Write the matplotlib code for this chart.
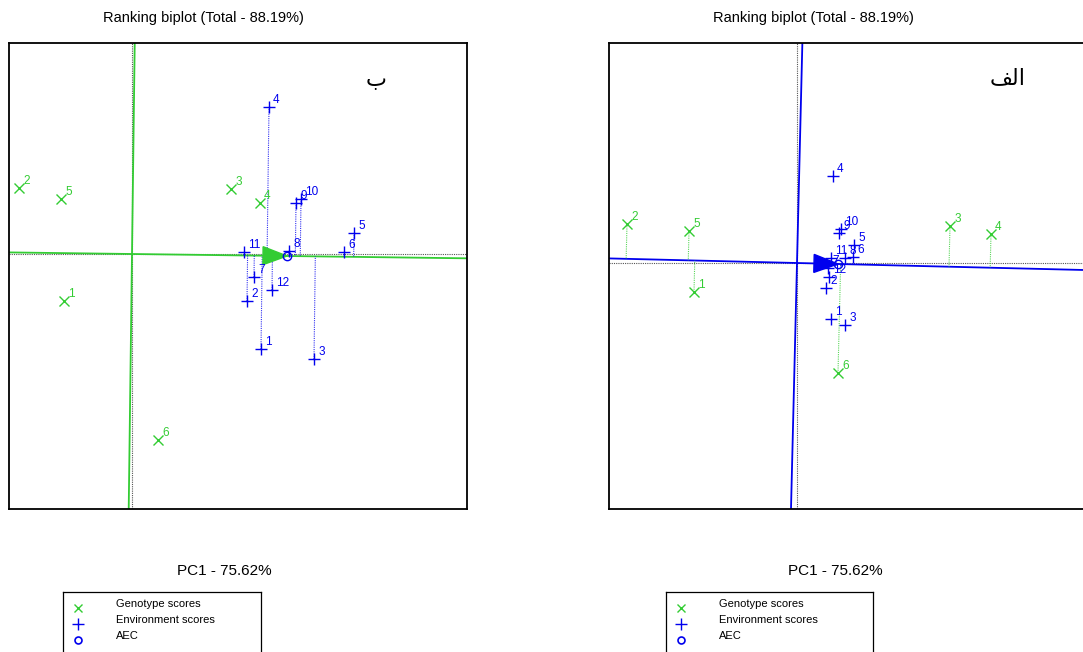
import numpy as np
import matplotlib
matplotlib.use("Agg")
import matplotlib.pyplot as plt
from matplotlib.patches import Polygon

plt.rcParams['font.family'] = ['Liberation Sans', 'DejaVu Sans']

GREEN = '#33cc33'
BLUE = '#0000ee'

title_text = 'Ranking biplot (Total - 88.19%)'
xlabel_text = 'PC1 - 75.62%'
legend_labels = ['Genotype scores', 'Environment scores', 'AEC']

genotype_ids = ['1', '2', '3', '4', '5', '6']
env_ids = ['1', '2', '3', '4', '5', '6', '7', '8', '9', '10', '11', '12']

# Panel "ب" (left)
b_gen_x = [-1.36, -2.26, 1.98, 2.56, -1.42, 0.52]
b_gen_y = [-0.94, 1.32, 1.30, 1.02, 1.10, -3.72]
b_env_x = [2.58, 2.30, 3.64, 2.74, 4.44, 4.24, 2.44, 3.14, 3.28, 3.38, 2.24, 2.80]
b_env_y = [-1.90, -0.94, -2.10, 2.94, 0.42, 0.04, -0.46, 0.06, 1.02, 1.10, 0.04, -0.72]
b_aec = [3.10, -0.04]

# Panel "الف" (right)
a_gen_x = [-2.06, -3.40, 3.06, 3.88, -2.16, 0.82]
a_gen_y = [-0.58, 0.78, 0.74, 0.58, 0.64, -2.20]
a_env_x = [0.68, 0.58, 0.96, 0.72, 1.14, 1.12, 0.62, 0.96, 0.84, 0.88, 0.68, 0.64]
a_env_y = [-1.12, -0.50, -1.24, 1.74, 0.36, 0.12, -0.10, 0.10, 0.60, 0.68, 0.10, -0.28]
a_aec = [0.82, -0.02]

W, H = 1083, 652
fig = plt.figure(figsize=(W / 100, H / 100), dpi=100)


def make_axes(left_px, right_px, top_px, bottom_px, ox_px, oy_px, scale=50.0):
    ax = fig.add_axes([left_px / W, 1 - bottom_px / H, (right_px - left_px) / W, (bottom_px - top_px) / H])
    ax.set_xlim((left_px - ox_px) / scale, (right_px - ox_px) / scale)
    ax.set_ylim((oy_px - bottom_px) / scale, (oy_px - top_px) / scale)
    ax.set_xticks([])
    ax.set_yticks([])
    for s in ax.spines.values():
        s.set_linewidth(1.3)
        s.set_color('black')
    return ax


def draw_panel(ax, gx, gy, ex, ey, aec, color, proj, tag, tag_xy):
    xl = ax.get_xlim()
    yl = ax.get_ylim()
    ax.axhline(0, color='#555555', ls=(0, (1, 1)), lw=0.8, zorder=1)
    ax.axvline(0, color='#555555', ls=(0, (1, 1)), lw=0.8, zorder=1)
    a = np.array(aec, dtype=float)
    u = a / np.linalg.norm(a)
    v = np.array([-u[1], u[0]])
    L = 30
    ax.plot([-L * u[0], L * u[0]], [-L * u[1], L * u[1]], color=color, lw=1.3, zorder=2)
    ax.plot([-L * v[0], L * v[0]], [-L * v[1], L * v[1]], color=color, lw=1.3, zorder=2)
    if proj == 'env':
        px, py, pc = ex, ey, BLUE
    else:
        px, py, pc = gx, gy, GREEN
    for x, y in zip(px, py):
        p = np.array([x, y])
        f = np.dot(p, u) * u
        ax.plot([x, f[0]], [y, f[1]], color=pc, ls=(0, (1, 1)), lw=0.8, alpha=0.8, zorder=2)
    tip = a
    base = a - 0.48 * u
    tri = Polygon([tip, base + 0.18 * v, base - 0.18 * v], closed=True, facecolor=color,
                  edgecolor=color, zorder=4)
    ax.add_patch(tri)
    ax.plot([a[0]], [a[1]], 'o', ms=6, mfc='none', mec=BLUE, mew=1.0, zorder=5)
    ax.plot(gx, gy, 'x', color=GREEN, ms=7, mew=1.0, ls='none', zorder=5)
    for x, y, t in zip(gx, gy, genotype_ids):
        ax.annotate(t, (x, y), xytext=(3, 1), textcoords='offset points', color=GREEN,
                    fontsize=8.5, ha='left', va='bottom', zorder=6)
    ax.plot(ex, ey, '+', color=BLUE, ms=9, mew=1.0, ls='none', zorder=5)
    for x, y, t in zip(ex, ey, env_ids):
        ax.annotate(t, (x, y), xytext=(3, 1), textcoords='offset points', color=BLUE,
                    fontsize=8.5, ha='left', va='bottom', zorder=6)
    ax.set_xlim(xl)
    ax.set_ylim(yl)
    ax.text(tag_xy[0], tag_xy[1], tag, transform=ax.transAxes, fontsize=16,
            family=['DejaVu Sans'], ha='center', va='center', color='black')


axL = make_axes(9, 467, 43, 509, 132, 254)
draw_panel(axL, b_gen_x, b_gen_y, b_env_x, b_env_y, b_aec, GREEN, 'env', '\u0628',
           ((376 - 9) / 458, 1 - (80 - 43) / 466))

axR = make_axes(609, 1092, 43, 509, 797, 263)
draw_panel(axR, a_gen_x, a_gen_y, a_env_x, a_env_y, a_aec, BLUE, 'gen', '\uFED2\uFEDF\uFE8D',
           ((1008 - 609) / 483, 1 - (78 - 43) / 466))

for cx in (203, 813):
    fig.text(cx / W, 1 - 18 / H, title_text, ha='center', va='center', fontsize=10.5)
for cx in (224, 835):
    fig.text(cx / W, 1 - 571 / H, xlabel_text, ha='center', va='center', fontsize=11)

for lx, rx in ((63, 261), (666, 873)):
    lax = fig.add_axes([lx / W, 0, (rx - lx) / W, (652 - 592) / H])
    lax.set_xlim(0, rx - lx)
    lax.set_ylim(60, 0)
    lax.set_xticks([])
    lax.set_yticks([])
    for s in lax.spines.values():
        s.set_linewidth(0.9)
    lax.spines['bottom'].set_visible(False)
    lax.plot([15], [16], 'x', color=GREEN, ms=6, mew=1.0)
    lax.plot([15], [32], '+', color=BLUE, ms=9, mew=1.0)
    lax.plot([15], [48], 'o', ms=5, mfc='none', mec=BLUE, mew=1.2)
    for i, t in enumerate(legend_labels):
        lax.text(53, 12 + 16 * i, t, fontsize=8, va='center', ha='left')

fig.savefig('out.png', dpi=100)
